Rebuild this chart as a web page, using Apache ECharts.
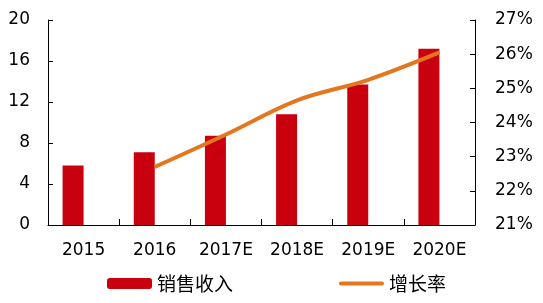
<!DOCTYPE html>
<html>
<head>
<meta charset="utf-8">
<script src="https://cdn.jsdelivr.net/npm/echarts@6/dist/echarts.min.js"></script>
<style>html,body{margin:0;padding:0;background:#fff;}#c{width:543px;height:303px;}</style>
</head>
<body>
<div id="c"></div>
<script>
var categories = ['2015', '2016', '2017E', '2018E', '2019E', '2020E'];
var salesRevenue = [5.8, 7.1, 8.7, 10.8, 13.7, 17.2];
var growthRate = [null, 22.7, 23.65, 24.65, 25.25, 26.05];
var leftTicks = { min: 0, max: 20, interval: 4 };
var rightTicks = { min: 21, max: 27, interval: 1 };

var chart = echarts.init(document.getElementById('c'), null, { renderer: 'canvas' });
var axisFont = { fontFamily: 'DejaVu Sans, Noto Sans CJK SC', fontSize: 17, color: '#000' };
var axisLine = { show: true, lineStyle: { color: '#000', width: 1 } };
chart.setOption({
  animation: false,
  grid: { left: 48, right: 68, top: 20, bottom: 78, containLabel: false },
  legend: {
    data: [
      { name: '销售收入' },
      { name: '增长率', icon: 'path://M2,0 L43,0 A2,2 0 0 1 43,4 L2,4 A2,2 0 0 1 2,0 Z', itemStyle: { color: '#E5761E' } }
    ],
    bottom: 5,
    left: 102,
    itemWidth: 45,
    itemHeight: 11,
    itemGap: 106,
    textStyle: { fontFamily: 'Noto Sans CJK SC', fontSize: 19, color: '#000' }
  },
  xAxis: {
    type: 'category',
    data: categories,
    axisLine: axisLine,
    axisTick: { show: true, inside: true, length: 6, lineStyle: { color: '#000' } },
    axisLabel: Object.assign({ margin: 17 }, axisFont),
    splitLine: { show: false }
  },
  yAxis: [
    {
      type: 'value', min: leftTicks.min, max: leftTicks.max, interval: leftTicks.interval,
      axisLine: axisLine,
      axisTick: { show: true, inside: true, length: 5, lineStyle: { color: '#000' } },
      axisLabel: Object.assign({ margin: 18 }, axisFont),
      splitLine: { show: false }
    },
    {
      type: 'value', min: rightTicks.min, max: rightTicks.max, interval: rightTicks.interval,
      position: 'right',
      axisLine: axisLine,
      axisTick: { show: true, inside: true, length: 5, lineStyle: { color: '#000' } },
      axisLabel: Object.assign({ margin: 20, formatter: '{value}%' }, axisFont),
      splitLine: { show: false }
    }
  ],
  series: [
    {
      name: '销售收入', type: 'bar', data: salesRevenue, barWidth: 21, barGap: '0%',
      itemStyle: { color: '#C9000E' }
    },
    {
      name: '_spacer', type: 'bar', data: categories.map(function () { return '-'; }), barWidth: 21,
      itemStyle: { color: 'transparent' }
    },
    {
      name: '增长率', type: 'line', yAxisIndex: 1, data: growthRate, smooth: 0.35,
      symbol: 'none', showSymbol: false,
      lineStyle: { color: '#E5761E', width: 4 },
      itemStyle: { color: '#E5761E' }
    }
  ]
});
</script>
</body>
</html>
